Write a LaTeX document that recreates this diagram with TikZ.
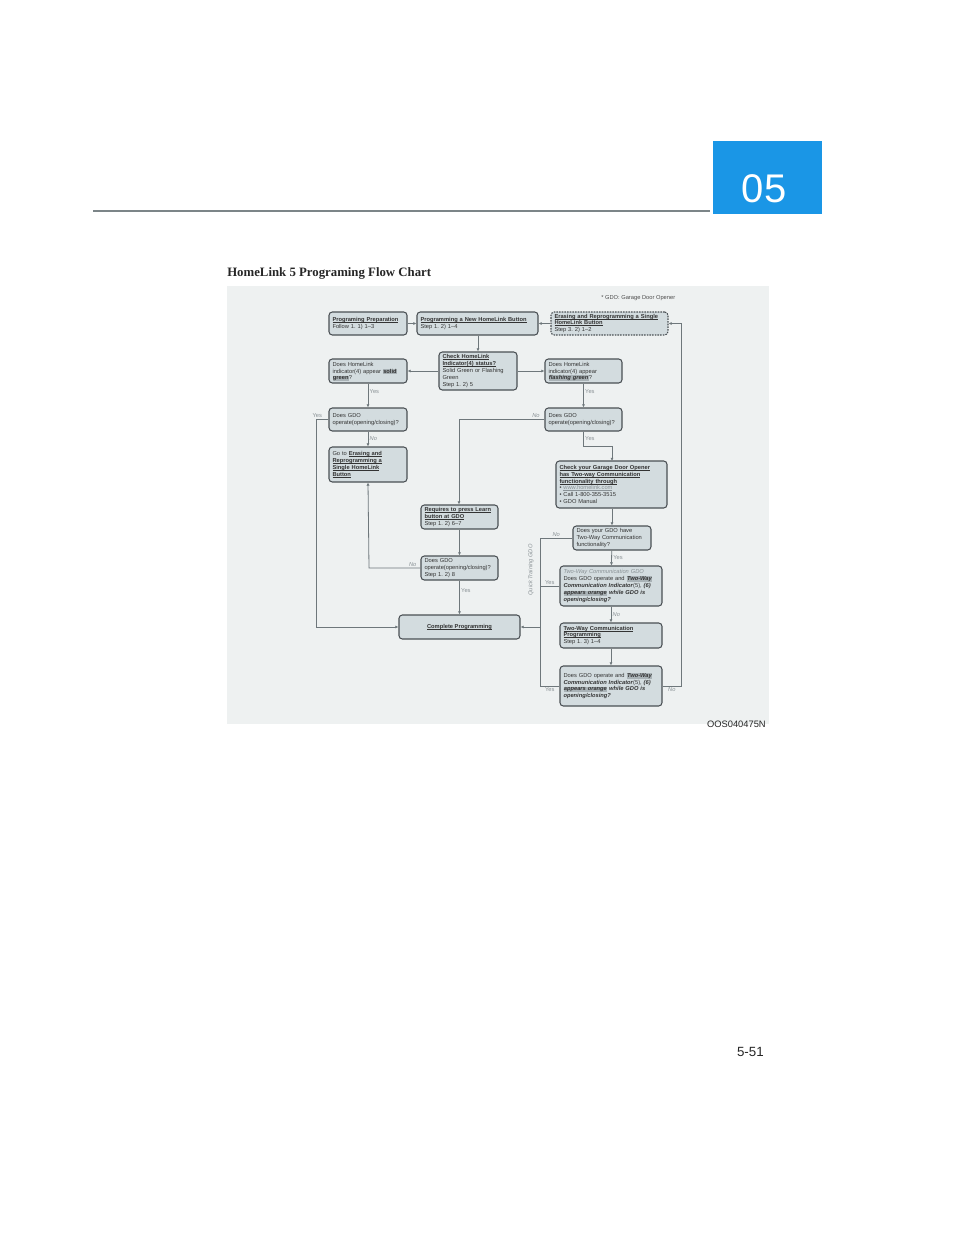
\documentclass[tikz,border=0pt]{standalone}
\usepackage{fontspec}
\setmainfont{Liberation Sans}
\newfontfamily\serifb{Liberation Serif}
\usetikzlibrary{arrows.meta}
\frenchspacing
\definecolor{bfill}{HTML}{D3DCDF}
\definecolor{bdraw}{HTML}{4A5054}
\definecolor{hl}{HTML}{A9B2B6}
\definecolor{lbl}{HTML}{8A9296}
\definecolor{ln}{HTML}{6E777B}
\definecolor{chartbg}{HTML}{EEF1F1}
\definecolor{blue05}{HTML}{1A96E6}
\newcommand{\ulbox}[1]{\leavevmode\setbox0\hbox{#1}\rlap{\rule[-0.6pt]{\wd0}{0.3pt}}\box0}
\newcommand{\ul}[1]{\ulbox{\textbf{#1}}}
\newcommand{\hlt}[1]{\smash{\setlength{\fboxsep}{0.3pt}\colorbox{hl}{\textbf{#1}}}}
\newcommand{\bx}[7][]{%
  \pgfmathsetmacro{\bw}{(#4-#2)*0.75}\pgfmathsetmacro{\bh}{(#5-#3)*0.75}\pgfmathsetmacro{\tw}{(#4-#2-7)*0.75}%
  \node[box,#1,minimum width=\bw pt,minimum height=\bh pt,text width=\tw pt] (#6) at ({(#2+#4)/2},{(#3+#5)/2}) {#7};}
\tikzset{
  box/.style={draw=bdraw,fill=bfill,line width=0.8pt,rounded corners=2.5pt,inner sep=0pt,align=left,
    font=\fontsize{4.3}{5.1}\selectfont,text=black!80},
  con/.style={draw=ln,line width=0.6pt,-{Latex[length=2.4pt,width=2.4pt]}},
  lab/.style={font=\fontsize{4.3}{5}\selectfont,text=lbl,inner sep=1pt},
}
\begin{document}
\begin{tikzpicture}[x=0.75pt,y=-0.75pt]
\useasboundingbox[fill=white] (0,0) rectangle (960,1242);
% page decorations
\draw[ln!90,line width=1.5pt] (93,211) -- (710,211);
\fill[blue05] (713,141) rectangle (822,214);
\node[text=white,font=\fontsize{30}{30}\selectfont] (chap) at (764,189) {05};
\node[anchor=base west,inner sep=0,font=\serifb\bfseries\fontsize{9.6}{10}\selectfont,text=black!85] (title) at (227,276) {HomeLink 5 Programing Flow Chart};
\fill[chartbg] (227,286) rectangle (769,724);
\node[anchor=base east,inner sep=0,font=\fontsize{7}{8}\selectfont,text=black!85] (code) at (766,727) {OOS040475N};
\node[anchor=base east,inner sep=0,font=\fontsize{10}{11}\selectfont,text=black!85] (page) at (764,1056) {5-51};
\node[anchor=base west,inner sep=0,font=\fontsize{4.3}{5}\selectfont,text=black!70] (note) at (601,299) {* GDO: Garage Door Opener};
% boxes
\bx{329}{312}{407}{335}{prep}{\ul{Programing Preparation}\\Follow 1. 1) 1--3}
\bx{417}{312}{538}{335}{newbtn}{\ul{Programming a New HomeLink Button}\\Step 1. 2) 1--4}
\bx[dash pattern=on 1.2pt off 0.8pt]{551}{312}{668}{335}{erase}{\ul{Erasing and Reprogramming a Single}\\\ul{HomeLink Button}\\Step 3. 2) 1--2}
\bx{439}{352}{517}{390}{check}{\ul{Check HomeLink}\\\ul{Indicator(4) status?}\\Solid Green or Flashing\\Green\\Step 1. 2) 5}
\bx{329}{359}{407}{383}{solid}{Does HomeLink\\indicator(4) appear \hlt{solid}\\\hlt{green}?}
\bx{545}{359}{622}{383}{flash}{Does HomeLink\\indicator(4) appear\\\hlt{\textit{flashing green}}?}
\bx{329}{408}{407}{431}{gdoa}{Does GDO\\operate(opening/closing)?}
\bx{545}{408}{622}{431}{gdob}{Does GDO\\operate(opening/closing)?}
\bx{329}{447}{407}{482}{goto}{Go to \ul{Erasing and}\\\ul{Reprogramming a}\\\ul{Single HomeLink}\\\ul{Button}}
\bx{556}{461}{667}{508}{chk}{\ul{Check your Garage Door Opener}\\\ul{has Two-way Communication}\\\ul{functionality through}\\\textbullet\ \textcolor{lbl}{\ulbox{www.homelink.com}}\\\textbullet\ Call 1-800-355-3515\\\textbullet\ GDO Manual}
\bx{421}{505}{498}{529}{learn}{\ul{Requires to press Learn}\\\ul{button at GDO}\\Step 1. 2) 6--7}
\bx{421}{556}{498}{580}{gdoc}{Does GDO\\operate(opening/closing)?\\Step 1. 2) 8}
\bx{573}{526}{651}{550}{twoq}{Does your GDO have\\Two-Way Communication\\functionality?}
\bx{560}{566}{662}{606}{twoc}{\textcolor{lbl}{\textit{Two-Way Communication GDO}}\\Does GDO operate and \hlt{\textit{Two-Way}}\\\textbf{\textit{Communication Indicator}}(5), \textbf{\textit{(6)}}\\\hlt{\textit{appears orange}} \textbf{\textit{while GDO is}}\\\textbf{\textit{opening/closing?}}}
\bx{560}{623}{662}{648}{twop}{\ul{Two-Way Communication}\\\ul{Programming}\\Step 1. 3) 1--4}
\bx{560}{666}{662}{706}{last}{Does GDO operate and \hlt{\textit{Two-Way}}\\\textbf{\textit{Communication Indicator}}(5), \textbf{\textit{(6)}}\\\hlt{\textit{appears orange}} \textbf{\textit{while GDO is}}\\\textbf{\textit{opening/closing?}}}
\pgfmathsetmacro{\bw}{121*0.75}\pgfmathsetmacro{\bh}{24*0.75}
\node[box,align=center,minimum width=\bw pt,minimum height=\bh pt] (comp) at (459.5,627) {\ul{Complete Programming}};
% connectors
\draw[con] (prep) -- (newbtn);
\draw[con] (erase) -- (newbtn);
\draw[con] (newbtn.south -| check) -- (check);
\draw[con] (check) -- (solid);
\draw[con] (check) -- (flash);
\draw[con] (solid) -- node[lab,right,pos=0.35]{Yes} (gdoa);
\draw[con] (gdoa) -- node[lab,right]{\textit{No}} (goto);
\draw[con] (gdoa.west) -- node[lab,above,pos=0.9]{Yes} (316,419.5) -- (316,627) -- (comp.west);
\draw[con] (flash) -- node[lab,right,pos=0.35]{Yes} (gdob);
\draw[con] (gdob.west) -- node[lab,above,pos=0.1]{\textit{No}} (459,419.5) -- (learn.north -| 459,0);
\draw[con] (gdob.south) -- node[lab,right]{Yes} (583.5,446) -- (612,446) -- (612,461);
\draw[con] (chk.south -| twoq) -- (twoq);
\draw[con] (twoq) -- node[lab,right]{Yes} (twoc);
\draw[con] (twoc) -- node[lab,right]{\textit{No}} (twop);
\draw[con] (twop) -- (last);
\draw[con] (learn) -- (gdoc);
\draw[con] (gdoc.west) -- node[lab,above,pos=0.15]{\textit{No}} (369,568) -- (goto.south);
\draw[con] (gdoc) -- node[lab,right,pos=0.3]{Yes} (comp);
\draw[con] (last.east) -- node[lab,below,pos=0.5]{\textit{No}} (681,686) -- (681,323.5) -- (erase.east);
\draw[ln,line width=0.6pt] (twoq.west) -- node[lab,above,pos=0.5]{\textit{No}} (540,538) -- (540,686) -- node[lab,below]{Yes} (last.west);
\draw[ln,line width=0.6pt] (twoc.west) -- node[lab,above]{Yes} (540,586);
\draw[con] (540,627) -- (comp.east);
\node[lab,rotate=90] (qt) at (531,570) {\textit{Quick Training GDO}};
\end{tikzpicture}
\end{document}
